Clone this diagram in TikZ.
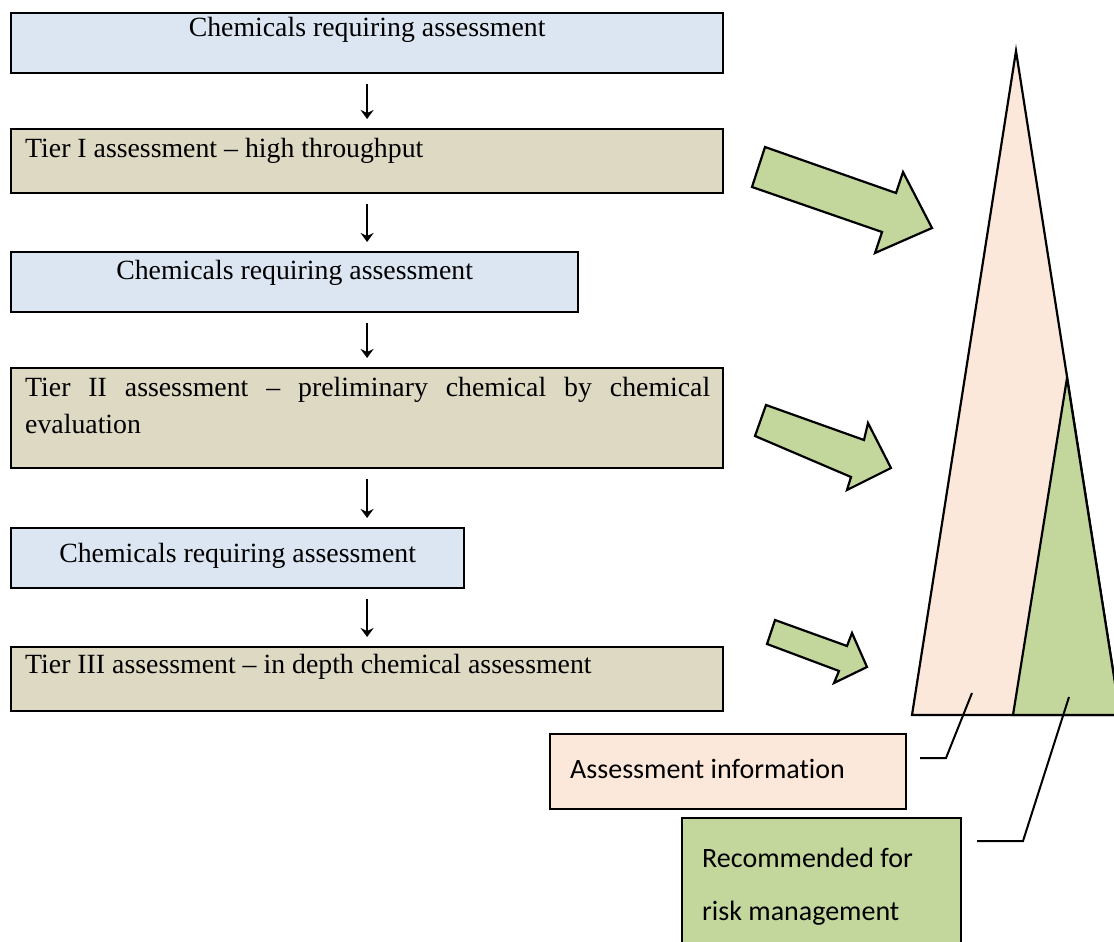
\documentclass[tikz,border=0pt]{standalone}
\usepackage{fontspec}
\setmainfont{Liberation Serif}
\newfontfamily\calibri[Ligatures=NoCommon]{Carlito}
\usepackage{xcolor}
\usetikzlibrary{arrows.meta}
\definecolor{chemblue}{HTML}{DCE6F2}
\definecolor{tiertan}{HTML}{DDD9C3}
\definecolor{infopeach}{HTML}{FCE8DA}
\definecolor{riskgreen}{HTML}{C3D69B}

\begin{document}
\begin{tikzpicture}[x=1pt,y=-1pt]
					\tikzstyle{stage} = [rectangle,draw=black,line width=2.2pt,anchor=north west,inner sep=0pt,minimum height=60pt]
					\tikzstyle{chem} = [stage,fill=chemblue]
					\tikzstyle{tier} = [stage,fill=tiertan,minimum width=712pt,minimum height=64pt]
					\tikzstyle{boxtext} = [font=\fontsize{27.8}{37}\selectfont,inner sep=0pt,anchor=base]
					\tikzstyle{tiertext} = [boxtext,anchor=base west]
					\tikzstyle{keybox} = [rectangle,draw=black,line width=2pt,anchor=north west,inner sep=0pt]
					\tikzstyle{keytext} = [font=\calibri\fontsize{28}{53}\selectfont,inner sep=0pt,anchor=base west,align=left]
					\tikzstyle{flow} = [-{Stealth[length=9pt,width=13pt,inset=3pt]},line width=1.6pt,shorten <=10pt,shorten >=9pt]
					\tikzstyle{fat} = [fill=riskgreen,draw=black,line width=2.2pt,line join=miter]
					\tikzstyle{leader} = [draw=black,line width=2pt]
					\useasboundingbox (0,0) rectangle (1114,942);
					\clip (0,0) rectangle (1114,942);
					\node[chem,minimum width=712pt] (chem1) at (10,12) {};
					\node[tier] (tier1) at (10,128) {};
					\node[chem,minimum width=567pt] (chem2) at (10,251) {};
					\node[tier,minimum height=100pt] (tier2) at (10,367) {};
					\node[chem,minimum width=453pt] (chem3) at (10,527) {};
					\node[tier] (tier3) at (10,646) {};
					\node[boxtext] (chem1text) at ([yshift=-25pt]chem1.north) {Chemicals requiring assessment};
					\node[tiertext] (tier1text) at ([xshift=15pt,yshift=-29pt]tier1.north west) {Tier I assessment – high throughput};
					\node[boxtext] (chem2text) at ([yshift=-28pt]chem2.north) {Chemicals requiring assessment};
					\node[tiertext,text width=685pt,align=justify] (tier2text) at ([xshift=15pt,yshift=-29pt]tier2.north west) {Tier II assessment – preliminary chemical by chemical\linebreak \mbox{evaluation}};
					\node[boxtext] (chem3text) at ([yshift=-35pt]chem3.north) {Chemicals requiring assessment};
					\node[tiertext] (tier3text) at ([xshift=15pt,yshift=-27pt]tier3.north west) {Tier III assessment – in depth chemical assessment};
					\draw[flow] (chem1.south) -- (tier1.north);
					\draw[flow] (tier1.south) -- (tier1.south |- chem2.north);
					\draw[flow] (chem2.south -| tier2.north) -- (tier2.north);
					\draw[flow] (tier2.south) -- (tier2.south |- chem3.north);
					\draw[flow] (chem3.south -| tier3.north) -- (tier3.north);
					\draw[fat] (765,147) -- (896,193) -- (903,172) -- (932,228) -- (875,253) -- (882,232) -- (752,187) -- cycle;
					\draw[fat] (766,405) -- (864,440) -- (868,423) -- (891,468) -- (847,490) -- (851,477) -- (755,436) -- cycle;
					\draw[fat] (775,620) -- (847,646) -- (852,633) -- (867,667) -- (834,683) -- (839,671) -- (767,644) -- cycle;
					\draw[fill=infopeach,line width=2.2pt,line join=miter] (1016,51) -- (912,715) -- (1120,715) -- cycle;
					\draw[fill=riskgreen,line width=2.2pt,line join=miter] (1067,378) -- (1013,715) -- (1120,715) -- cycle;
					\node[keybox,fill=infopeach,minimum width=356pt,minimum height=75pt] (info) at (549,733) {};
					\node[keybox,fill=riskgreen,minimum width=279pt,minimum height=140pt] (risk) at (681,817) {};
					\node[keytext] (infotext) at (570,778) {Assessment information};
					\node[keytext] (risktext) at (702,920) {Recommended for\\risk management};
					\coordinate (infotip) at (972,693);
					\coordinate (infoend) at (920,758);
					\coordinate (risktip) at (1069,697);
					\coordinate (riskend) at (977,841);
					\draw[leader] (infotip) -- ++(-26,65) -- (infoend);
					\draw[leader] (risktip) -- ++(-46,144) -- (riskend);
\end{tikzpicture}
\end{document}
